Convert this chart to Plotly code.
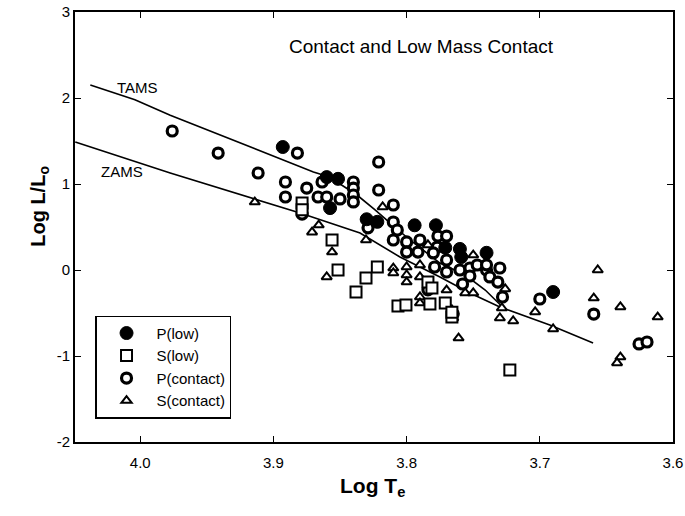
import plotly.graph_objects as go

# ---- data ----
p_low_x = [3.893, 3.860, 3.8515, 3.8575, 3.830, 3.822, 3.794, 3.778, 3.771, 3.760, 3.759, 3.740, 3.690]
p_low_y = [1.43, 1.08, 1.06, 0.72, 0.59, 0.56, 0.52, 0.52, 0.26, 0.245, 0.15, 0.20, -0.256]

s_low_x = [3.8785, 3.8785, 3.856, 3.8515, 3.838, 3.8305, 3.822, 3.8065, 3.8005, 3.7825, 3.771,
           3.784, 3.781, 3.766, 3.766, 3.7225]
s_low_y = [0.78, 0.70, 0.35, 0.0, -0.256, -0.093, 0.035, -0.42, -0.407, -0.395, -0.384,
           -0.14, -0.21, -0.547, -0.49, -1.163]

p_con_x = [3.976, 3.9415, 3.9115, 3.882, 3.891, 3.891, 3.875, 3.8635, 3.840, 3.840, 3.840, 3.840,
           3.8665, 3.860, 3.850, 3.8785, 3.821, 3.821, 3.810, 3.810, 3.807, 3.810, 3.800, 3.790,
           3.7765, 3.770, 3.777, 3.800, 3.7915, 3.780, 3.770, 3.779, 3.770, 3.760, 3.7525, 3.747,
           3.7525, 3.740, 3.730, 3.7375, 3.7315, 3.728, 3.758, 3.700, 3.6595, 3.6255, 3.6195,
           3.784, 3.765, 3.829, 3.740]
p_con_y = [1.616, 1.36, 1.128, 1.36, 1.023, 0.849, 0.953, 1.023, 1.023, 0.953, 0.872, 0.791,
           0.849, 0.849, 0.826, 0.65, 1.256, 0.93, 0.756, 0.558, 0.465, 0.349, 0.326, 0.349,
           0.395, 0.395, 0.267, 0.209, 0.209, 0.198, 0.116, 0.035, -0.023, 0.0, 0.023, 0.058,
           -0.07, 0.0, 0.023, -0.081, -0.14, -0.314, -0.163, -0.337, -0.512, -0.86, -0.837,
           -0.23, -0.51, 0.49, 0.06]

s_con_x = [3.914, 3.871, 3.866, 3.856, 3.860, 3.8305, 3.818, 3.810, 3.810, 3.800, 3.800, 3.800,
           3.790, 3.790, 3.784, 3.790, 3.790, 3.770, 3.756, 3.750, 3.750, 3.766, 3.765, 3.761,
           3.726, 3.7285, 3.730, 3.720, 3.7035, 3.690, 3.6565, 3.6595, 3.6395, 3.6115, 3.6395, 3.642]
s_con_y = [0.79, 0.44, 0.523, 0.209, -0.081, 0.349, 0.733, 0.023, -0.035, 0.035, -0.058, -0.14,
           0.058, -0.081, 0.291, -0.314, -0.384, -0.233, -0.267, -0.267, 0.174, -0.465, -0.558, -0.791,
           -0.22, -0.442, -0.558, -0.593, -0.488, -0.686, 0.0, -0.326, -0.43, -0.547, -1.012, -1.081]

tams_x = [4.0375, 4.004, 3.9775, 3.9175, 3.870, 3.8627, 3.850, 3.8373, 3.8237, 3.8125, 3.7975,
          3.775, 3.756, 3.741, 3.728]
tams_y = [2.15, 1.98, 1.80, 1.43, 1.14, 1.105, 1.0, 0.872, 0.70, 0.547, 0.349,
          0.081, -0.058, -0.233, -0.43]

zams_x = [4.0488, 3.9775, 3.880, 3.835, 3.805, 3.775, 3.7525, 3.730, 3.6925, 3.660]
zams_y = [1.488, 1.128, 0.663, 0.430, 0.151, -0.081, -0.267, -0.430, -0.640, -0.849]

x_ticks = [4.0, 3.9, 3.8, 3.7, 3.6]
x_tick_labels = ["4.0", "3.9", "3.8", "3.7", "3.6"]
y_ticks = [-2, -1, 0, 1, 2, 3]
y_tick_labels = ["-2", "-1", "0", "1", "2", "3"]

FONT = "Liberation Sans, Arial, Helvetica, sans-serif"

fig = go.Figure()

fig.add_trace(go.Scatter(x=zams_x, y=zams_y, mode="lines", line=dict(color="black", width=1.6),
                         showlegend=False, hoverinfo="skip"))
fig.add_trace(go.Scatter(x=tams_x, y=tams_y, mode="lines", line=dict(color="black", width=1.6),
                         showlegend=False, hoverinfo="skip"))

fig.add_trace(go.Scatter(x=s_con_x, y=s_con_y, mode="markers", name="S(contact)",
                         marker=dict(symbol="triangle-up", size=9, color="white",
                                     line=dict(color="black", width=2))))
fig.add_trace(go.Scatter(x=p_con_x, y=p_con_y, mode="markers", name="P(contact)",
                         marker=dict(symbol="circle", size=10, color="white",
                                     line=dict(color="black", width=3.2))))
fig.add_trace(go.Scatter(x=s_low_x, y=s_low_y, mode="markers", name="S(low)",
                         marker=dict(symbol="square", size=11, color="white",
                                     line=dict(color="black", width=2))))
fig.add_trace(go.Scatter(x=p_low_x, y=p_low_y, mode="markers", name="P(low)",
                         marker=dict(symbol="circle", size=13, color="black",
                                     line=dict(color="black", width=1))))

axis_common = dict(showline=True, linecolor="black", linewidth=1.6, mirror="ticks",
                   ticks="inside", ticklen=6, tickwidth=1.2, tickcolor="black",
                   showgrid=False, zeroline=False, automargin=False,
                   tickfont=dict(family=FONT, size=15, color="black"))

fig.update_xaxes(range=[4.049, 3.6], tickvals=x_ticks, ticktext=x_tick_labels,
                 ticklabelstandoff=6, **axis_common)
fig.update_yaxes(range=[-2, 3], tickvals=y_ticks, ticktext=y_tick_labels, **axis_common)

fig.update_layout(
    width=685, height=516,
    margin=dict(l=75, r=12, t=12, b=74, autoexpand=False),
    paper_bgcolor="white", plot_bgcolor="white",
    font=dict(family=FONT, color="black"),
    legend=dict(x=0.034, y=0.294, xanchor="left", yanchor="top",
                bordercolor="black", borderwidth=1.2, bgcolor="white",
                traceorder="reversed",
                font=dict(family=FONT, size=15, color="black"),
                itemwidth=50, tracegroupgap=0),
    annotations=[
        dict(text="Contact and Low Mass Contact", xref="paper", yref="paper", x=0.579, y=0.919,
             xanchor="center", yanchor="middle",
             showarrow=False, font=dict(family=FONT, size=19, color="black")),
        dict(text="TAMS", x=4.002, y=2.12, xref="x", yref="y", showarrow=False,
             xanchor="center", yanchor="middle",
             font=dict(family=FONT, size=15, color="black")),
        dict(text="ZAMS", x=4.0135, y=1.15, xref="x", yref="y", showarrow=False,
             xanchor="center", yanchor="middle",
             font=dict(family=FONT, size=15, color="black")),
        dict(text="<b>Log T<sub>e</sub></b>", xref="paper", yref="paper", x=0.497, y=-0.105,
             xanchor="center", yanchor="middle",
             showarrow=False, font=dict(family=FONT, size=21, color="black")),
        dict(text="<b>Log L/L<sub>o</sub></b>", xref="paper", yref="paper", x=-0.0585, y=0.547,
             xanchor="center", yanchor="middle",
             textangle=-90, showarrow=False, font=dict(family=FONT, size=20, color="black")),
    ],
)

fig.write_html("out.html", config={"displayModeBar": False},
               post_script="document.body.style.margin='0';document.body.style.overflow='hidden';")
